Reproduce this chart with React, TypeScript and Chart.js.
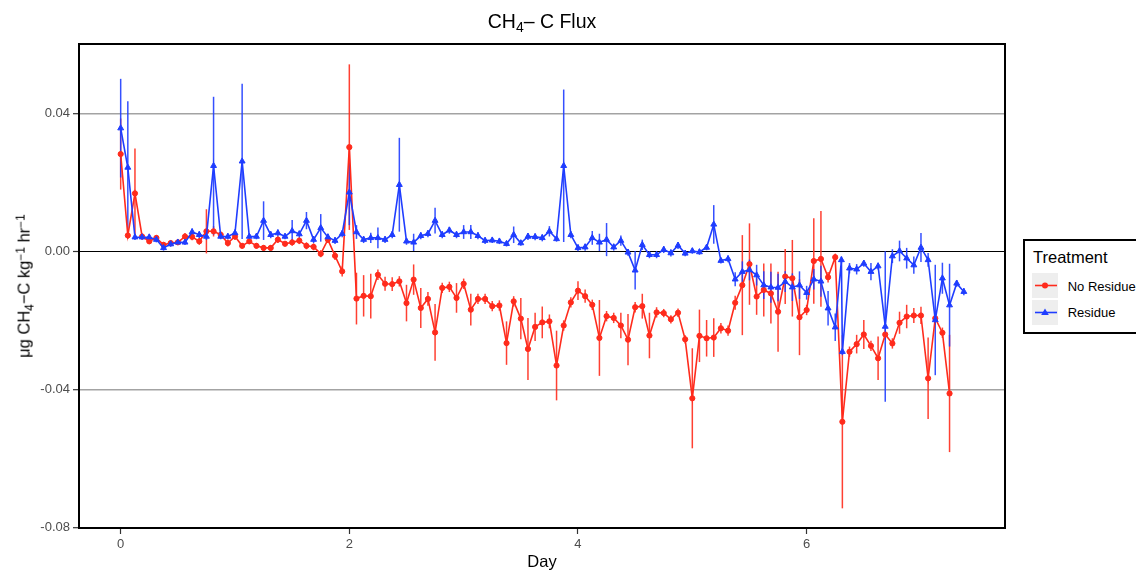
import React, { useEffect, useRef } from 'react';
import { Chart, registerables } from 'chart.js';

Chart.register(...registerables);

// ---------- data ----------
const redHours = [0,1.5,3,4.5,6,7.5,9,10.5,12,13.5,15,16.5,18,19.5,21,22.5,24,25.5,27,28.5,30,31.5,33,34.5,36,37.5,39,40.5,42,43.5,45,46.5,48,49.5,51,52.5,54,55.5,57,58.5,60,61.5,63,64.5,66,67.5,69,70.5,72,73.5,75,76.5,78,79.5,81,82.5,84,85.5,87,88.5,90,91.5,93,94.5,96,97.5,99,100.5,102,103.5,105,106.5,108,109.5,111,112.5,114,115.5,117,118.5,120,121.5,123,124.5,126,127.5,129,130.5,132,133.5,135,136.5,138,139.5,141,142.5,144,145.5,147,148.5,150,151.5,153,154.5,156,157.5,159,160.5,162,163.5,165,166.5,168,169.5,171,172.5,174];

const redFlux = [
  0.0282,0.0046,0.0168,0.0043,0.0029,0.0039,0.0019,0.0024,0.0026,0.0043,
  0.0042,0.0029,0.0058,0.0058,0.0048,0.0024,0.0043,0.0016,0.0029,0.0016,
  0.0010,0.0010,0.0034,0.0022,0.0026,0.0031,0.0016,0.0013,-0.0007,0.0034,
  -0.0013,-0.0058,0.0302,-0.0137,-0.0129,-0.0130,-0.0068,-0.0094,-0.0095,-0.0087,
  -0.0150,-0.0082,-0.0164,-0.0138,-0.0235,-0.0106,-0.0103,-0.0135,-0.0094,-0.0169,
  -0.0138,-0.0138,-0.0159,-0.0157,-0.0266,-0.0145,-0.0195,-0.0283,-0.0219,-0.0206,
  -0.0203,-0.0331,-0.0215,-0.0148,-0.0114,-0.0130,-0.0155,-0.0251,-0.0188,-0.0193,
  -0.0215,-0.0256,-0.0162,-0.0159,-0.0244,-0.0177,-0.0179,-0.0197,-0.0178,-0.0255,
  -0.0426,-0.0245,-0.0252,-0.0250,-0.0223,-0.0230,-0.0149,-0.0098,-0.0037,-0.0131,
  -0.0112,-0.0122,-0.0175,-0.0073,-0.0078,-0.0191,-0.0170,-0.0028,-0.0022,-0.0075,
  -0.0017,-0.0494,-0.0291,-0.0269,-0.0241,-0.0274,-0.0310,-0.0241,-0.0267,-0.0207,
  -0.0189,-0.0186,-0.0186,-0.0368,-0.0194,-0.0236,-0.0412
];

const redErr = [
  0.0103,0.0010,0.0130,0.0008,0.0008,0.0008,0.0008,0.0008,0.0008,0.0010,
  0.0010,0.0010,0.0064,0.0015,0.0010,0.0010,0.0010,0.0008,0.0008,0.0008,
  0.0008,0.0008,0.0010,0.0008,0.0010,0.0010,0.0010,0.0010,0.0010,0.0010,
  0.0012,0.0015,0.0240,0.0075,0.0060,0.0065,0.0015,0.0020,0.0020,0.0015,
  0.0053,0.0044,0.0058,0.0020,0.0082,0.0015,0.0015,0.0043,0.0015,0.0046,
  0.0015,0.0015,0.0015,0.0015,0.0063,0.0015,0.0060,0.0090,0.0041,0.0046,
  0.0020,0.0101,0.0015,0.0015,0.0027,0.0019,0.0015,0.0110,0.0015,0.0015,
  0.0037,0.0074,0.0015,0.0036,0.0066,0.0015,0.0012,0.0012,0.0012,0.0012,
  0.0145,0.0076,0.0053,0.0056,0.0015,0.0015,0.0020,0.0145,0.0118,0.0053,
  0.0077,0.0087,0.0116,0.0080,0.0111,0.0110,0.0015,0.0124,0.0139,0.0015,
  0.0010,0.0251,0.0015,0.0027,0.0042,0.0015,0.0063,0.0015,0.0015,0.0032,
  0.0034,0.0022,0.0025,0.0118,0.0020,0.0015,0.0170
];

const blueHours = [0,1.5,3,4.5,6,7.5,9,10.5,12,13.5,15,16.5,18,19.5,21,22.5,24,25.5,27,28.5,30,31.5,33,34.5,36,37.5,39,40.5,42,43.5,45,46.5,48,49.5,51,52.5,54,55.5,57,58.5,60,61.5,63,64.5,66,67.5,69,70.5,72,73.5,75,76.5,78,79.5,81,82.5,84,85.5,87,88.5,90,91.5,93,94.5,96,97.5,99,100.5,102,103.5,105,106.5,108,109.5,111,112.5,114,115.5,117,118.5,120,121.5,123,124.5,126,127.5,129,130.5,132,133.5,135,136.5,138,139.5,141,142.5,144,145.5,147,148.5,150,151.3,151.5,153,154.5,156,157.5,159,160.5,162,163.5,165,166.5,168,169.5,171,172.5,174,175.5,177];

const blueFlux = [
  0.0357,0.0243,0.0041,0.0041,0.0041,0.0034,0.0010,0.0021,0.0026,0.0026,
  0.0056,0.0048,0.0043,0.0248,0.0043,0.0043,0.0053,0.0261,0.0043,0.0043,
  0.0089,0.0048,0.0053,0.0043,0.0059,0.0050,0.0089,0.0034,0.0068,0.0041,
  0.0031,0.0051,0.0171,0.0056,0.0034,0.0039,0.0039,0.0034,0.0048,0.0193,
  0.0029,0.0026,0.0045,0.0051,0.0089,0.0048,0.0061,0.0048,0.0056,0.0056,
  0.0045,0.0031,0.0032,0.0029,0.0022,0.0048,0.0024,0.0043,0.0042,0.0039,
  0.0058,0.0036,0.0248,0.0048,0.0010,0.0012,0.0039,0.0026,0.0034,0.0012,
  0.0031,-0.0003,-0.0055,0.0019,-0.0010,-0.0010,0.0005,-0.0005,0.0017,-0.0006,
  0.0001,-0.0002,0.0011,0.0078,-0.0027,-0.0022,-0.0081,-0.0059,-0.0054,-0.0069,
  -0.0098,-0.0104,-0.0105,-0.0088,-0.0104,-0.0098,-0.0120,-0.0081,-0.0087,-0.0165,
  -0.0220,-0.0025,-0.0291,
  -0.0049,-0.0052,-0.0035,-0.0059,-0.0043,-0.0218,-0.0014,0.0001,-0.0020,-0.0040,
  0.0011,-0.0025,-0.0199,-0.0078,-0.0156,-0.0093,-0.0117
];

const blueErr = [
  0.0143,0.0192,0.0008,0.0008,0.0008,0.0008,0.0008,0.0008,0.0008,0.0008,
  0.0010,0.0010,0.0010,0.0200,0.0008,0.0008,0.0010,0.0225,0.0008,0.0008,
  0.0056,0.0010,0.0010,0.0008,0.0032,0.0010,0.0025,0.0010,0.0040,0.0010,
  0.0010,0.0010,0.0095,0.0020,0.0010,0.0015,0.0030,0.0010,0.0010,0.0136,
  0.0010,0.0025,0.0010,0.0010,0.0037,0.0010,0.0010,0.0010,0.0020,0.0020,
  0.0010,0.0010,0.0008,0.0008,0.0008,0.0024,0.0008,0.0010,0.0010,0.0010,
  0.0015,0.0008,0.0221,0.0010,0.0010,0.0010,0.0020,0.0025,0.0048,0.0010,
  0.0015,0.0010,0.0056,0.0015,0.0010,0.0010,0.0010,0.0010,0.0010,0.0008,
  0.0008,0.0008,0.0008,0.0056,0.0008,0.0010,0.0020,0.0030,0.0030,0.0030,
  0.0040,0.0045,0.0040,0.0030,0.0040,0.0040,0.0020,0.0030,0.0045,0.0050,
  0.0040,0.0010,0.0010,
  0.0015,0.0015,0.0010,0.0025,0.0010,0.0218,0.0020,0.0030,0.0030,0.0025,
  0.0042,0.0020,0.0160,0.0045,0.0120,0.0010,0.0010
];

const xTicks = [0, 2, 4, 6];
const yTicks = [-0.08, -0.04, 0, 0.04];
const seriesNames = ['No Residue', 'Residue'];

const RED = '#FF2B1C';
const BLUE = '#1F3DFF';
const FONT = '"Liberation Sans", Arial, Helvetica, sans-serif';

const errorBarPlugin = {
  id: 'errorBars',
  beforeDatasetsDraw(chart: any) {
    const { ctx, chartArea, scales } = chart;
    const xs = scales.x;
    const ys = scales.y;
    ctx.save();
    ctx.beginPath();
    ctx.rect(chartArea.left, chartArea.top, chartArea.right - chartArea.left, chartArea.bottom - chartArea.top);
    ctx.clip();
    chart.data.datasets.forEach((ds: any) => {
      ctx.strokeStyle = ds.errColor;
      ctx.lineWidth = 1.5;
      ds.data.forEach((p: any) => {
        const px = xs.getPixelForValue(p.x);
        ctx.beginPath();
        ctx.moveTo(px, ys.getPixelForValue(p.y - p.e));
        ctx.lineTo(px, ys.getPixelForValue(p.y + p.e));
        ctx.stroke();
      });
    });
    ctx.restore();
  },
};

const borderPlugin = {
  id: 'panelBorder',
  afterDatasetsDraw(chart: any) {
    const { ctx, chartArea } = chart;
    ctx.save();
    ctx.strokeStyle = '#000';
    ctx.lineWidth = 2;
    ctx.strokeRect(chartArea.left, chartArea.top, chartArea.right - chartArea.left, chartArea.bottom - chartArea.top);
    ctx.restore();
  },
};

const sub = { fontSize: '0.72em', position: 'relative' as const, top: '0.3em' };
const sup = { fontSize: '0.72em', position: 'relative' as const, top: '-0.45em' };

export default function App() {
  const ref = useRef<HTMLCanvasElement>(null);

  useEffect(() => {
    if (!ref.current) return;
    Chart.defaults.font.family = FONT;
    const redData = redHours.map((h, i) => ({ x: h / 24, y: redFlux[i], e: redErr[i] }));
    const blueData = blueHours.map((h, i) => ({ x: h / 24, y: blueFlux[i], e: blueErr[i] }));
    const chart = new Chart(ref.current, {
      type: 'line',
      data: {
        datasets: [
          {
            label: seriesNames[0],
            data: redData as any,
            borderColor: RED,
            backgroundColor: RED,
            borderWidth: 1.6,
            pointStyle: 'circle',
            pointRadius: 2.6,
            pointBorderWidth: 1,
            pointBackgroundColor: RED,
            pointBorderColor: RED,
            tension: 0,
            order: 2,
            errColor: 'rgba(255,43,28,0.9)',
          } as any,
          {
            label: seriesNames[1],
            data: blueData as any,
            borderColor: BLUE,
            backgroundColor: BLUE,
            borderWidth: 1.6,
            pointStyle: 'triangle',
            pointRadius: 3.4,
            pointBorderWidth: 1,
            pointBackgroundColor: BLUE,
            pointBorderColor: BLUE,
            tension: 0,
            order: 1,
            errColor: 'rgba(31,61,255,0.9)',
          } as any,
        ],
      },
      options: {
        responsive: false,
        animation: false,
        events: [],
        layout: { padding: { top: 44, right: 131, left: 0, bottom: 0 } },
        plugins: {
          legend: { display: false },
          tooltip: { enabled: false },
          title: { display: false },
        },
        scales: {
          x: {
            type: 'linear',
            min: -0.3645,
            max: 7.735,
            afterBuildTicks: (s: any) => {
              s.ticks = xTicks.map((v) => ({ value: v }));
            },
            afterFit: (s: any) => {
              s.height = 43;
            },
            ticks: {
              color: '#4D4D4D',
              font: { size: 13, family: FONT },
              padding: 3,
              maxRotation: 0,
              callback: (v: any) => String(v),
            },
            grid: {
              drawOnChartArea: false,
              drawTicks: true,
              tickLength: 6,
              tickColor: '#333333',
              tickWidth: 1.2,
            },
            border: { display: false },
          },
          y: {
            type: 'linear',
            min: -0.0802,
            max: 0.0601,
            afterBuildTicks: (s: any) => {
              s.ticks = yTicks.map((v) => ({ value: v }));
            },
            afterFit: (s: any) => {
              s.width = 79;
            },
            ticks: {
              color: '#4D4D4D',
              font: { size: 13, family: FONT },
              padding: 3,
              callback: (v: any) => Number(v).toFixed(2),
            },
            grid: {
              drawTicks: true,
              tickLength: 6,
              tickColor: '#333333',
              tickWidth: 1.2,
              color: (c: any) => (c.tick && c.tick.value === 0 ? '#000000' : '#A3A3A3'),
              lineWidth: (c: any) => (c.tick && c.tick.value === 0 ? 1 : 1.4),
            },
            border: { display: false },
          },
        },
      },
      plugins: [errorBarPlugin, borderPlugin],
    });
    return () => chart.destroy();
  }, []);

  return (
    <div
      style={{
        position: 'fixed',
        left: 0,
        top: 0,
        width: 1136,
        height: 571,
        overflow: 'hidden',
        background: '#ffffff',
        fontFamily: FONT,
        color: '#000',
      }}
    >
      <canvas
        ref={ref}
        width={1136}
        height={571}
        style={{ position: 'absolute', left: 0, top: 0, width: 1136, height: 571, display: 'block' }}
      />
      <div
        style={{
          position: 'absolute',
          left: 542,
          top: 11.5,
          transform: 'translateX(-50%)',
          fontSize: 19.5,
          lineHeight: 1,
          whiteSpace: 'nowrap',
        }}
      >
        CH<span style={sub}>4</span>–&nbsp;C Flux
      </div>
      <div
        style={{
          position: 'absolute',
          left: 542,
          top: 553,
          transform: 'translateX(-50%)',
          fontSize: 16.5,
          lineHeight: 1,
          whiteSpace: 'nowrap',
        }}
      >
        Day
      </div>
      <div
        style={{
          position: 'absolute',
          left: 24,
          top: 286,
          transform: 'translate(-50%, -50%) rotate(-90deg)',
          fontSize: 16.5,
          lineHeight: 1,
          whiteSpace: 'nowrap',
        }}
      >
        μg CH<span style={sub}>4</span>−C kg<span style={sup}>−1</span> hr<span style={sup}>−1</span>
      </div>
      <div
        style={{
          position: 'absolute',
          left: 1023,
          top: 239,
          width: 150,
          height: 95,
          border: '2px solid #000',
          boxSizing: 'border-box',
          background: '#fff',
        }}
      >
        <div style={{ position: 'absolute', left: 8, top: 8, fontSize: 16.5, lineHeight: 1, whiteSpace: 'nowrap' }}>
          Treatment
        </div>
        <svg style={{ position: 'absolute', left: 7, top: 32 }} width={26} height={25}>
          <rect x={0} y={0} width={26} height={25} fill="#EEEEEE" />
          <line x1={3} y1={12.5} x2={25} y2={12.5} stroke={RED} strokeWidth={1.6} />
          <circle cx={13} cy={12.5} r={3} fill={RED} />
        </svg>
        <svg style={{ position: 'absolute', left: 7, top: 59 }} width={26} height={25}>
          <rect x={0} y={0} width={26} height={25} fill="#EEEEEE" />
          <line x1={3} y1={12.5} x2={25} y2={12.5} stroke={BLUE} strokeWidth={1.6} />
          <polygon points="13,8.5 16.8,15 9.2,15" fill={BLUE} />
        </svg>
        <div style={{ position: 'absolute', left: 42.7, top: 39.3, fontSize: 13, lineHeight: 1, whiteSpace: 'nowrap' }}>
          {seriesNames[0]}
        </div>
        <div style={{ position: 'absolute', left: 42.7, top: 65.3, fontSize: 13, lineHeight: 1, whiteSpace: 'nowrap' }}>
          {seriesNames[1]}
        </div>
      </div>
    </div>
  );
}
